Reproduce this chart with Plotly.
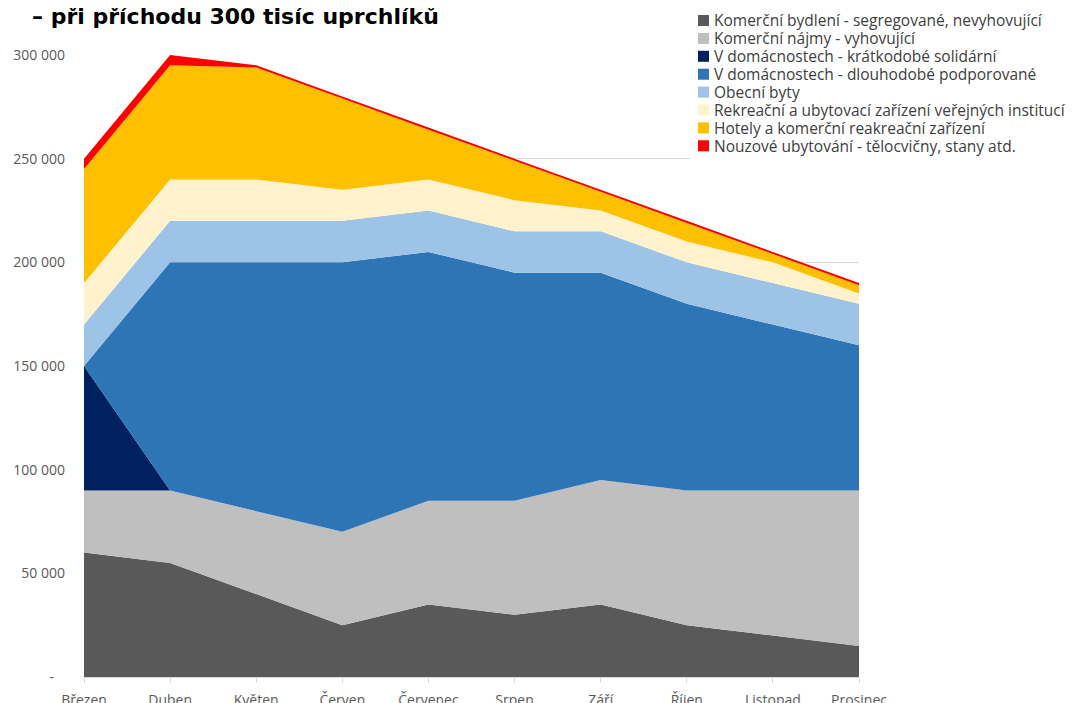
import plotly.graph_objects as go

months = ["Březen", "Duben", "Květen", "Červen", "Červenec", "Srpen", "Září", "Říjen", "Listopad", "Prosinec"]

komercni_bydleni = [60000, 55000, 40000, 25000, 35000, 30000, 35000, 25000, 20000, 15000]
komercni_najmy = [30000, 35000, 40000, 45000, 50000, 55000, 60000, 65000, 70000, 75000]
domacnosti_kratkodobe = [60000, 0, 0, 0, 0, 0, 0, 0, 0, 0]
domacnosti_dlouhodobe = [0, 110000, 120000, 130000, 120000, 110000, 100000, 90000, 80000, 70000]
obecni_byty = [20000, 20000, 20000, 20000, 20000, 20000, 20000, 20000, 20000, 20000]
rekreacni_zarizeni = [20000, 20000, 20000, 15000, 15000, 15000, 10000, 10000, 10000, 5000]
hotely = [55000, 55000, 54000, 44000, 24000, 19000, 9000, 9000, 4000, 4000]
nouzove = [5000, 5000, 1000, 1000, 1000, 1000, 1000, 1000, 1000, 1000]

series_names = [
    "Komerční bydlení - segregované, nevyhovující",
    "Komerční nájmy - vyhovující",
    "V domácnostech - krátkodobé solidární",
    "V domácnostech - dlouhodobé podporované",
    "Obecní byty",
    "Rekreační a ubytovací zařízení veřejných institucí",
    "Hotely a komerční reakreační zařízení",
    "Nouzové ubytování - tělocvičny, stany atd.",
]
series_values = [komercni_bydleni, komercni_najmy, domacnosti_kratkodobe, domacnosti_dlouhodobe,
                 obecni_byty, rekreacni_zarizeni, hotely, nouzove]
colors = ["#595959", "#BFBFBF", "#002060", "#2E75B6", "#9DC3E6", "#FFF2CC", "#FFC000", "#FF0000"]

y_tickvals = [0, 50000, 100000, 150000, 200000, 250000, 300000]
y_ticktext = ["-\u00a0\u00a0\u00a0", "50 000", "100 000", "150 000", "200 000", "250 000", "300 000"]

title_text = "– při příchodu 300 tisíc uprchlíků"

# layout geometry (figure pixels; the page adds an 8 px body margin)
W, H = 1075, 703
OFF = 8
PLOT_LEFT, PLOT_RIGHT, PLOT_TOP, PLOT_BOTTOM = 84, 859, 55, 677  # in screenshot pixels
PW, PH = PLOT_RIGHT - PLOT_LEFT, PLOT_BOTTOM - PLOT_TOP
L, T = PLOT_LEFT - OFF, PLOT_TOP - OFF
R, B = W - L - PW, H - T - PH


def px_x(p):
    return (p - PLOT_LEFT) / PW


def px_y(p):
    return (PLOT_BOTTOM - p) / PH


fig = go.Figure()
for name, vals, col in zip(series_names, series_values, colors):
    fig.add_trace(go.Scatter(
        x=months, y=vals, name=name, stackgroup="one", mode="none",
        fillcolor=col, line=dict(width=0), hoverinfo="skip", showlegend=False,
    ))

# custom legend (squares + labels) at the top right
annotations = []
shapes = []
leg_x_sq, leg_x_txt, leg_y0, leg_dy = 698, 712, 20.5, 17.9
shapes.append(dict(type="rect", xref="paper", yref="paper",
                   x0=px_x(690), x1=px_x(1083), y0=px_y(160), y1=px_y(8),
                   fillcolor="white", line=dict(width=0), layer="above"))
for i, (name, col) in enumerate(zip(series_names, colors)):
    cy = leg_y0 + i * leg_dy
    shapes.append(dict(type="rect", xref="paper", yref="paper",
                       x0=px_x(leg_x_sq), x1=px_x(leg_x_sq + 11),
                       y0=px_y(cy + 5.5), y1=px_y(cy - 5.5),
                       fillcolor=col, line=dict(width=0), layer="above"))
    annotations.append(dict(text=name, xref="paper", yref="paper",
                            x=px_x(leg_x_txt), y=px_y(cy), xanchor="left", yanchor="middle",
                            showarrow=False, font=dict(family="Open Sans", size=15.5, color="#404040")))

annotations.append(dict(
    text="<b>" + title_text + "</b>",
    xref="paper", yref="paper", x=px_x(30), y=px_y(17),
    xanchor="left", yanchor="middle", showarrow=False,
    font=dict(family="DejaVu Sans", size=22, color="black"),
))

fig.update_layout(
    width=W, height=H,
    margin=dict(l=L, r=R, t=T, b=B, autoexpand=False),
    paper_bgcolor="white", plot_bgcolor="white",
    font=dict(family="Open Sans", color="#595959", size=14),
    showlegend=False,
    xaxis=dict(
        type="category", range=[0, 9], showgrid=False, automargin=False,
        showline=True, linecolor="#D9D9D9", linewidth=1,
        ticks="outside", ticklen=5, tickcolor="#D9D9D9", ticklabelstandoff=5,
        tickfont=dict(size=14, color="#595959"),
    ),
    yaxis=dict(
        range=[0, 300000], tickvals=y_tickvals, ticktext=y_ticktext, automargin=False,
        showgrid=True, gridcolor="#D9D9D9", gridwidth=1, zeroline=False,
        showline=False, ticks="", ticklabelstandoff=18,
        tickfont=dict(size=14, color="#595959"),
    ),
    annotations=annotations,
    shapes=shapes,
)

fig.write_html("out.html")
